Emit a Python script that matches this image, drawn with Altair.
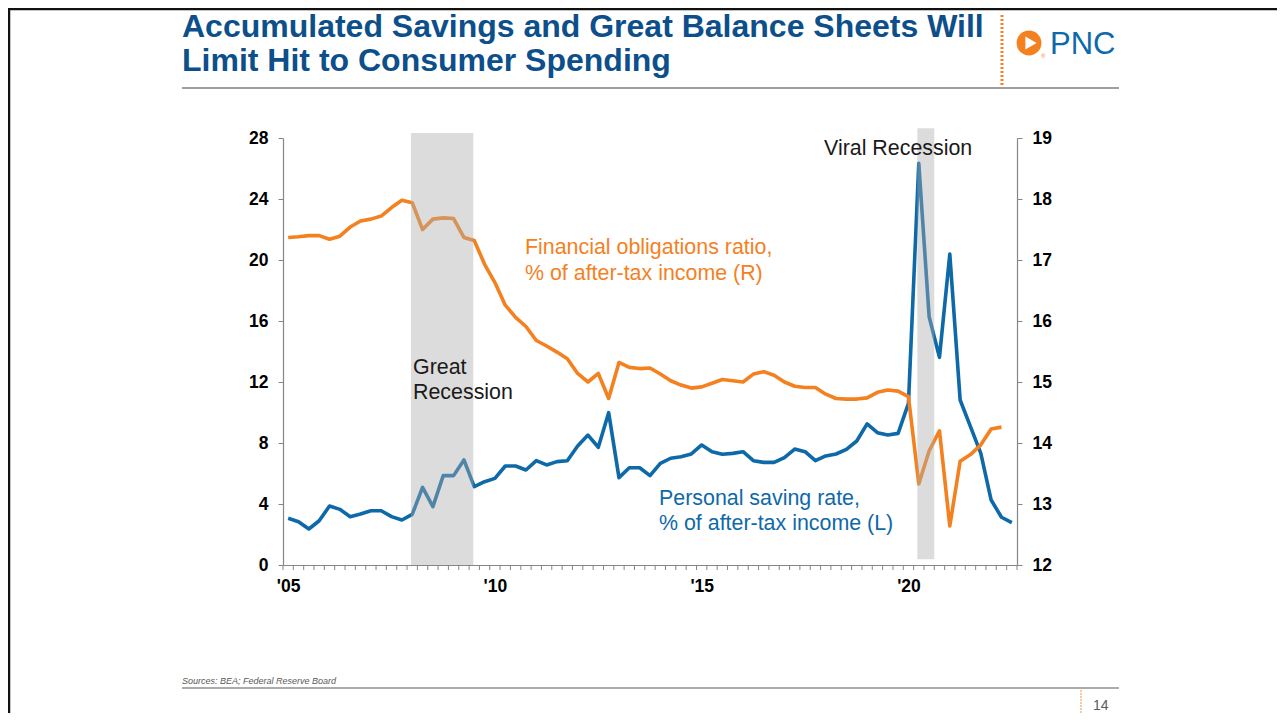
import json
import altair as alt
import pandas as pd

# ---------------- data ----------------
# Personal saving rate, % of after-tax income (left axis), quarterly 2005Q1..2022Q3
SAVING_RATE = [3.06, 2.84, 2.36, 2.90, 3.87, 3.65, 3.17, 3.34, 3.56, 3.56,
               3.17, 2.95, 3.32, 5.09, 3.83, 5.86, 5.86, 6.89, 5.14, 5.46,
               5.68, 6.49, 6.49, 6.23, 6.84, 6.56, 6.78, 6.84, 7.80, 8.52,
               7.72, 9.99, 5.73, 6.38, 6.38, 5.86, 6.67, 7.00, 7.10, 7.28,
               7.87, 7.43, 7.26, 7.32, 7.43, 6.84, 6.73, 6.73, 7.04, 7.60,
               7.43, 6.84, 7.15, 7.28, 7.58, 8.13, 9.25, 8.68, 8.52, 8.63,
               10.60, 26.34, 16.28, 13.62, 20.39, 10.82, 9.07, 7.32, 4.26, 3.13,
               2.78]
# Financial obligations ratio, % of after-tax income (right axis), 2005Q1..2022Q2
FIN_OBLIGATIONS = [17.37, 17.38, 17.40, 17.40, 17.34, 17.39, 17.54, 17.64, 17.67, 17.72,
                   17.86, 17.98, 17.94, 17.50, 17.67, 17.69, 17.68, 17.37, 17.32, 16.93,
                   16.63, 16.26, 16.06, 15.91, 15.68, 15.59, 15.49, 15.38, 15.14, 15.00,
                   15.14, 14.73, 15.32, 15.24, 15.22, 15.23, 15.13, 15.02, 14.95, 14.90,
                   14.92, 14.98, 15.04, 15.02, 15.00, 15.13, 15.17, 15.11, 15.00, 14.93,
                   14.91, 14.91, 14.80, 14.73, 14.72, 14.72, 14.74, 14.83, 14.87, 14.85,
                   14.76, 13.33, 13.87, 14.20, 12.64, 13.70, 13.81, 13.97, 14.23, 14.26]
N_QUARTERS = 71
X_TICK_LABELS = ["'05", "'10", "'15", "'20"]
X_TICK_POS = [0, 20, 40, 60]
LEFT_TICKS = [0, 4, 8, 12, 16, 20, 24, 28]
RIGHT_TICKS = [12, 13, 14, 15, 16, 17, 18, 19]
BAND_START = [11.88, 60.86]
BAND_END = [17.91, 62.50]
BAND_LOW = [0.0, 0.37]
BAND_HIGH = [28.33, 28.64]

TITLE_LINES = ["Accumulated Savings and Great Balance Sheets Will",
               "Limit Hit to Consumer Spending"]
SOURCE = "Sources: BEA; Federal Reserve Board"
PAGE_NO = "14"

# ---------------- styling ----------------
FONT = "Liberation Sans"
BLUE = "#0e69a9"
ORANGE = "#f4811f"
TITLE_BLUE = "#0d4f8b"
AXIS_GRAY = "#868686"
W, H = 734, 427
PAD_L, PAD_T = 275, 130
TOTAL_W, TOTAL_H = 1269, 705
AX_FS = 17.5
ANN_FS = 21.4

df_s = pd.DataFrame({"i": list(range(len(SAVING_RATE))), "v": SAVING_RATE})
df_f = pd.DataFrame({"i": list(range(len(FIN_OBLIGATIONS))), "v": FIN_OBLIGATIONS})
df_b = pd.DataFrame({"start": BAND_START, "end": BAND_END, "low": BAND_LOW, "high": BAND_HIGH})
df_t = pd.DataFrame({"i": [k - 0.5 for k in range(N_QUARTERS + 1)]})
one = pd.DataFrame({"a": [0]})

X_SCALE = alt.Scale(domain=[-0.5, N_QUARTERS - 0.5], nice=False, zero=False)
label_expr = json.dumps(X_TICK_LABELS) + "[indexof(" + json.dumps(X_TICK_POS) + ", datum.value)]"
X_AXIS = alt.Axis(values=X_TICK_POS, labelExpr=label_expr, tickSize=0, title=None,
                  grid=False, domainColor=AXIS_GRAY, domainWidth=1.2, labelFont=FONT,
                  labelFontWeight="bold", labelFontSize=AX_FS, labelColor="#000",
                  labelPadding=12)


def xenc(field):
    return alt.X(field, type="quantitative", scale=X_SCALE, axis=X_AXIS)


blue = alt.Chart(df_s).mark_line(color=BLUE, strokeWidth=3.6, strokeJoin="round").encode(
    x=xenc("i"),
    y=alt.Y("v:Q", scale=alt.Scale(domain=[0, 28], nice=False, zero=False),
            axis=alt.Axis(orient="left", values=LEFT_TICKS, title=None, grid=False,
                          domainColor=AXIS_GRAY, domainWidth=1.2, tickColor=AXIS_GRAY,
                          tickSize=5, labelFont=FONT, labelFontWeight="bold",
                          labelFontSize=AX_FS, labelColor="#000", labelPadding=10)),
)

orange = alt.Chart(df_f).mark_line(color=ORANGE, strokeWidth=3.6, strokeJoin="round").encode(
    x=xenc("i"),
    y=alt.Y("v:Q", scale=alt.Scale(domain=[12, 19], nice=False, zero=False),
            axis=alt.Axis(orient="right", values=RIGHT_TICKS, title=None, grid=False,
                          domainColor=AXIS_GRAY, domainWidth=1.2, tickColor=AXIS_GRAY,
                          tickSize=5, labelFont=FONT, labelFontWeight="bold",
                          labelFontSize=AX_FS, labelColor="#000", labelPadding=10)),
)

bands = alt.Chart(df_b).mark_rect(color="#acacac", opacity=0.42).encode(
    x=xenc("start"),
    x2="end:Q",
    y=alt.Y("low:Q", scale=alt.Scale(domain=[0, 28], nice=False, zero=False), axis=None),
    y2="high:Q",
)

xticks = alt.Chart(df_t).mark_rule(color=AXIS_GRAY, strokeWidth=1).encode(
    x=xenc("i"), y=alt.value(H), y2=alt.value(H + 5)
)


def text(lines, x, y, size, color, weight="normal", style="normal", align="left",
         line_height=None, font=FONT):
    kw = dict(align=align, baseline="alphabetic", fontSize=size, color=color,
              font=font, fontWeight=weight, fontStyle=style)
    if line_height:
        kw["lineHeight"] = line_height
    return alt.Chart(one).mark_text(**kw).encode(
        x=alt.value(x), y=alt.value(y), text=alt.value(lines))


def rule(x1, y1, x2, y2, color, width, dash=None):
    kw = dict(color=color, strokeWidth=width)
    if dash:
        kw["strokeDash"] = dash
    return alt.Chart(one).mark_rule(**kw).encode(
        x=alt.value(x1), y=alt.value(y1), x2=alt.value(x2), y2=alt.value(y2))


ox, oy = 283, 138  # page position of the plot origin

annot = [
    text(["Great", "Recession"], 413 - ox, 374 - oy, ANN_FS, "#1a1a1a", line_height=25),
    text("Viral Recession", 824 - ox, 155 - oy, ANN_FS, "#1a1a1a"),
    text(["Financial obligations ratio,", "% of after-tax income (R)"], 525 - ox, 254 - oy,
         ANN_FS, ORANGE, line_height=25.5),
    text(["Personal saving rate,", "% of after-tax income (L)"], 659 - ox, 505 - oy,
         ANN_FS, BLUE, line_height=25),
]

deco = [
    # slide frame
    rule(8 - ox, 9 - oy, 1285 - ox, 9 - oy, "#111111", 2.5),
    rule(9 - ox, 9 - oy, 9 - ox, 721 - oy, "#111111", 2.5),
    # title
    text(TITLE_LINES, 182 - ox, 37 - oy, 32, TITLE_BLUE, weight="bold", line_height=34),
    rule(182 - ox, 88 - oy, 1119 - ox, 88 - oy, "#7f7f7f", 1.3),
    # logo
    rule(1002 - ox, 15 - oy, 1002 - ox, 86 - oy, ORANGE, 3, dash=[2, 2]),
    alt.Chart(one).mark_point(shape="circle", filled=True, size=620, color=ORANGE, opacity=1).encode(
        x=alt.value(1029 - ox), y=alt.value(43 - oy)),
    alt.Chart(one).mark_point(shape="triangle-right", filled=True, size=170, color="white", opacity=1).encode(
        x=alt.value(1031 - ox), y=alt.value(43 - oy)),
    text("®", 1041 - ox, 58 - oy, 6, ORANGE),
    text("PNC", 1050 - ox, 54 - oy, 31, BLUE),
    # footer
    text(SOURCE, 182 - ox, 684 - oy, 9, "#595959", style="italic"),
    rule(182 - ox, 688 - oy, 1119 - ox, 688 - oy, "#595959", 1.2),
    rule(1081 - ox, 690 - oy, 1081 - ox, 721 - oy, "#f8c8a0", 2, dash=[2, 1]),
    text(PAGE_NO, 1093 - ox, 710 - oy, 14, "#595959"),
]

chart = alt.layer(blue, orange, bands, xticks, *annot, *deco).resolve_scale(
    y="independent"
).properties(
    width=W,
    height=H,
    autosize=alt.AutoSizeParams(type="none"),
    padding={"left": PAD_L, "top": PAD_T, "right": TOTAL_W - PAD_L - W,
             "bottom": TOTAL_H - PAD_T - H},
    background="white",
).configure_view(strokeWidth=0)

chart.save("out.html", embed_options={"renderer": "svg", "actions": False})
